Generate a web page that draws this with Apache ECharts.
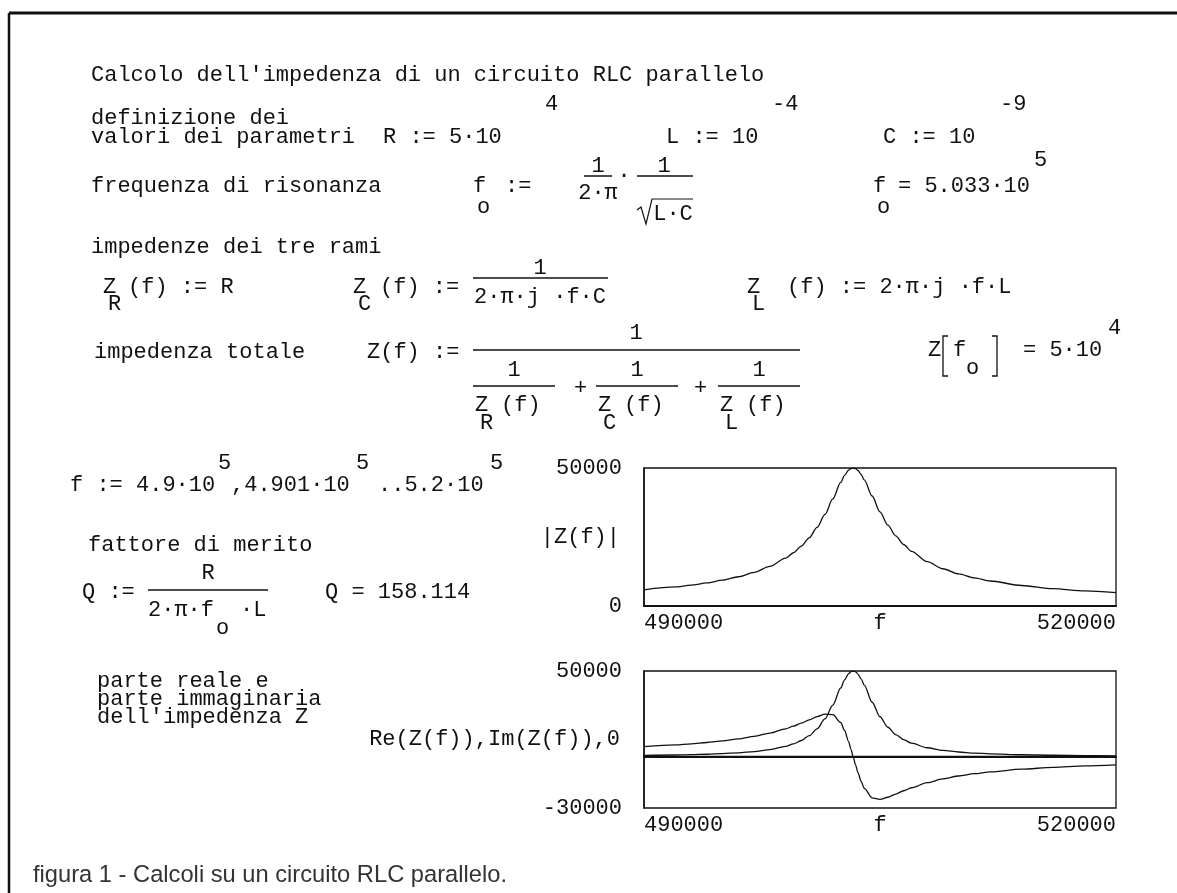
<!DOCTYPE html>
<html>
<head>
<meta charset="utf-8">
<title>Calcolo dell'impedenza di un circuito RLC parallelo</title>
<script src="https://cdn.jsdelivr.net/npm/echarts@6/dist/echarts.min.js"></script>
<style>
  html, body { margin: 0; padding: 0; background: #fff; }
  #chart { width: 1177px; height: 893px; }
</style>
</head>
<body>
<div id="chart"></div>
<script>
// f samples (Hz) and the values
const freq = [490000, 492000, 493000, 494000, 495000, 496000, 497000, 498000, 499000, 499500,
  500000, 500500, 501000, 501500, 502000, 502500, 502750, 503000, 503150, 503300,
  503450, 503600, 503800, 504000, 504500, 505000, 505500, 506000, 506500, 507000,
  508000, 509000, 510000, 511000, 512000, 514000, 516000, 518000, 520000];
const absZ = [5870, 6900, 7560, 8370, 9350, 10590, 12190, 14330, 17320, 19290,
  21700, 24710, 28470, 33170, 38800, 44760, 47330, 49180, 49800, 50000,
  49760, 49090, 47640, 45690, 39850, 34120, 29280, 25390, 22280, 19780,
  16080, 13500, 11620, 10180, 9060, 7430, 6290, 5460, 4820];
const reZ = [690, 950, 1140, 1400, 1750, 2240, 2970, 4110, 6000, 7440,
  9420, 12210, 16220, 22000, 30110, 40060, 44800, 48370, 49600, 50000,
  49510, 48200, 45380, 41750, 31750, 23280, 17150, 12890, 9930, 7830,
  5170, 3650, 2700, 2070, 1640, 1100, 790, 600, 460];
const imZ = [5830, 6840, 7480, 8250, 9190, 10350, 11820, 13730, 16250, 17800,
  19550, 21480, 23410, 24820, 24470, 19950, 15260, 8880, 4430, -250,
  -4920, -9320, -14480, -18560, -24070, -24940, -23730, -21870, -19940, -18170,
  -15230, -13000, -11300, -9970, -8910, -7340, -6240, -5420, -4800];
// the ",0" trace of the second plot
const zeroFreq = [490000, 520000];
const zeroVal = [0, 0];

const fTicks = [490000, 520000];
const absTicks = [0, 50000];
const reImTicks = [-30000, 50000];

const MONO = '"Liberation Mono", "DejaVu Sans Mono", monospace';
const INK = '#111';

function txt(s, x, y, align) {
  return {
    type: 'text', x: x, y: y,
    style: { text: s, font: '22px ' + MONO, fill: INK, align: align || 'left', verticalAlign: 'middle' }
  };
}
function hline(x1, x2, y, w) {
  return { type: 'line', shape: { x1: x1, y1: y, x2: x2, y2: y }, style: { stroke: INK, lineWidth: w || 1.5 } };
}
function poly(points, w) {
  return { type: 'polyline', shape: { points: points }, style: { stroke: INK, fill: null, lineWidth: w || 1.5 } };
}

const sheet = [
  // page frame
  hline(9, 1177, 13, 3),
  { type: 'line', shape: { x1: 9, y1: 13, x2: 9, y2: 893 }, style: { stroke: INK, lineWidth: 2.5 } },

  txt("Calcolo dell'impedenza di un circuito RLC parallelo", 91, 75),

  txt('definizione dei', 91, 118),
  txt('valori dei parametri', 91, 137),
  txt('R := 5·10', 383, 137), txt('4', 545, 104),
  txt('L := 10', 666, 137), txt('-4', 772, 104),
  txt('C := 10', 883, 137), txt('-9', 1000, 104),

  txt('frequenza di risonanza', 91, 186),
  txt('f', 473, 186), txt('o', 477, 207), txt(':=', 505, 186),
  txt('1', 598, 166, 'center'), hline(584, 612, 176), txt('2·π', 598, 193, 'center'),
  txt('·', 624, 176, 'center'),
  txt('1', 664, 166, 'center'), hline(637, 693, 176),
  poly([[637, 210], [641, 207], [646, 224], [652, 199], [693, 199]], 1.2),
  txt('L·C', 673, 214, 'center'),
  txt('f', 873, 186), txt('o', 877, 207), txt('= 5.033·10', 898, 186), txt('5', 1034, 160),

  txt('impedenze dei tre rami', 91, 247),
  txt('Z', 103, 287), txt('R', 108, 304), txt('(f) := R', 128, 287),
  txt('Z', 353, 287), txt('C', 358, 304), txt('(f) :=', 380, 287),
  txt('1', 540, 268, 'center'), hline(473, 608, 278), txt('2·π·j ·f·C', 474, 297),
  txt('Z', 747, 287), txt('L', 752, 304), txt('(f) := 2·π·j ·f·L', 787, 287),

  txt('impedenza totale', 94, 352),
  txt('Z(f) :=', 367, 352),
  txt('1', 636, 333, 'center'), hline(473, 800, 350),
  txt('1', 514, 370, 'center'), hline(473, 555, 386),
  txt('Z', 475, 405), txt('R', 480, 423), txt('(f)', 501, 405),
  txt('+', 574, 388),
  txt('1', 637, 370, 'center'), hline(596, 678, 386),
  txt('Z', 598, 405), txt('C', 603, 423), txt('(f)', 624, 405),
  txt('+', 694, 388),
  txt('1', 759, 370, 'center'), hline(718, 800, 386),
  txt('Z', 720, 405), txt('L', 725, 423), txt('(f)', 746, 405),

  txt('Z', 928, 350),
  poly([[948, 336], [943, 336], [943, 376], [948, 376]], 1.3),
  txt('f', 953, 350), txt('o', 966, 368),
  poly([[992, 336], [997, 336], [997, 376], [992, 376]], 1.3),
  txt('= 5·10', 1023, 350), txt('4', 1108, 328),

  txt('f := 4.9·10', 70, 485), txt('5', 218, 463),
  txt(',4.901·10', 231, 485), txt('5', 356, 463),
  txt('..5.2·10', 378, 485), txt('5', 490, 463),

  txt('fattore di merito', 88, 545),
  txt('Q :=', 82, 592),
  txt('R', 208, 573, 'center'), hline(148, 268, 590),
  txt('2·π·f', 148, 610), txt('o', 216, 628), txt('·L', 240, 610),
  txt('Q = 158.114', 325, 592),

  txt('parte reale e', 97, 681),
  txt('parte immaginaria', 97, 699),
  txt("dell'impedenza Z", 97, 717),

  {
    type: 'text', x: 33, y: 875,
    style: { text: 'figura 1 - Calcoli su un circuito RLC parallelo.', font: '23.7px "Liberation Sans", Arial, sans-serif',
      fill: '#333', align: 'left', verticalAlign: 'middle' }
  }
];

const labelFont = { fontFamily: MONO, fontSize: 22, color: INK };
const plain = (v) => String(v);

function fAxis(gridIndex) {
  return {
    gridIndex: gridIndex, type: 'value', min: fTicks[0], max: fTicks[fTicks.length - 1],
    name: 'f', nameLocation: 'middle', nameGap: 6, nameMoveOverlap: false, nameTextStyle: labelFont,
    axisLine: { show: true, lineStyle: { color: INK, width: 2 } },
    axisTick: { show: false }, splitLine: { show: false },
    axisLabel: Object.assign({ margin: 6, customValues: fTicks, formatter: plain,
      alignMinLabel: 'left', alignMaxLabel: 'right' }, labelFont)
  };
}
function valAxis(gridIndex, ticks, name) {
  return {
    gridIndex: gridIndex, type: 'value', min: ticks[0], max: ticks[ticks.length - 1],
    name: name, nameLocation: 'middle', nameRotate: 0, nameGap: 24, nameMoveOverlap: false, nameTextStyle: labelFont,
    axisLine: { show: true, lineStyle: { color: INK, width: 1.5 } },
    axisTick: { show: false }, splitLine: { show: false },
    axisLabel: Object.assign({ margin: 22, customValues: ticks, formatter: plain }, labelFont)
  };
}
function curve(gridIndex, xs, ys, width) {
  return {
    type: 'line', xAxisIndex: gridIndex, yAxisIndex: gridIndex,
    data: xs.map((f, i) => [f, ys[i]]),
    showSymbol: false, smooth: 0.3, smoothMonotone: 'x',
    lineStyle: { color: INK, width: width || 1.3 }
  };
}

const chart = echarts.init(document.getElementById('chart'));
chart.setOption({
  backgroundColor: '#fff',
  animation: false,
  textStyle: { fontFamily: MONO },
  grid: [
    { left: 644, top: 468, width: 472, height: 138, show: true, borderColor: INK, borderWidth: 1.3 },
    { left: 644, top: 671, width: 472, height: 137, show: true, borderColor: INK, borderWidth: 1.3 }
  ],
  xAxis: [fAxis(0), fAxis(1)],
  yAxis: [valAxis(0, absTicks, '|Z(f)|'), valAxis(1, reImTicks, 'Re(Z(f)),Im(Z(f)),0')],
  series: [
    curve(0, freq, absZ),
    curve(1, freq, reZ),
    curve(1, freq, imZ),
    curve(1, zeroFreq, zeroVal, 2)
  ],
  graphic: sheet
});
window.addEventListener('resize', () => chart.resize());
</script>
</body>
</html>
